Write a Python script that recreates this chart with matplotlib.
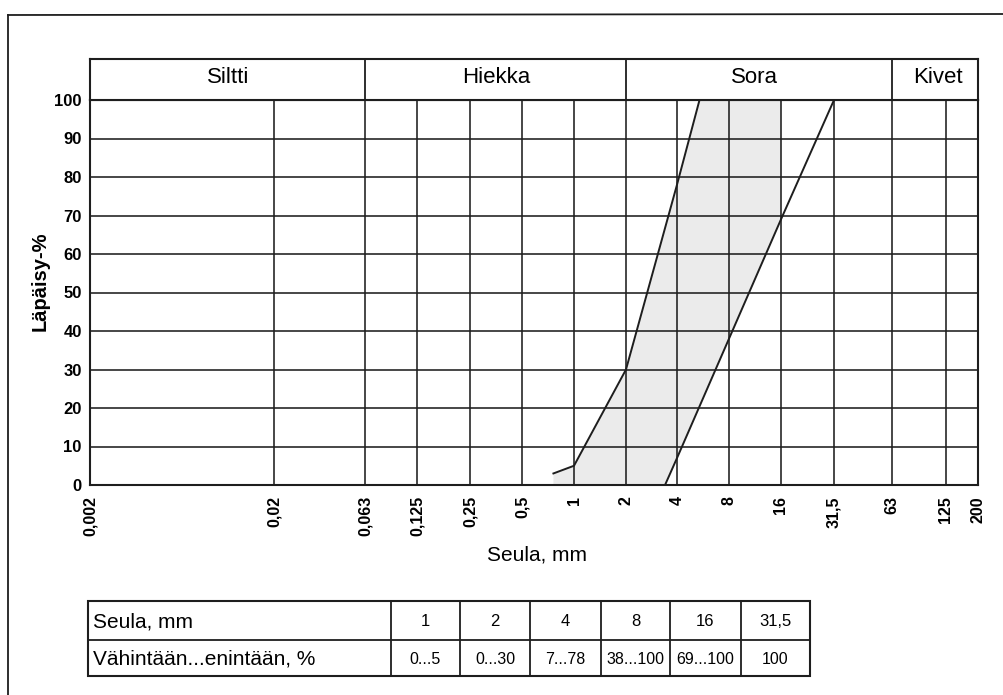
import numpy as np
import matplotlib
matplotlib.use("Agg")
import matplotlib.pyplot as plt
from matplotlib.patches import Polygon, Rectangle

plt.rcParams['font.family'] = ['Liberation Sans', 'DejaVu Sans']

# ---------------- data ----------------
sieve_ticks = [0.002, 0.02, 0.063, 0.125, 0.25, 0.5, 1, 2, 4, 8, 16, 31.5, 63, 125, 200]
sieve_labels = ["0,002", "0,02", "0,063", "0,125", "0,25", "0,5", "1", "2", "4",
                "8", "16", "31,5", "63", "125", "200"]
y_ticks = [0, 10, 20, 30, 40, 50, 60, 70, 80, 90, 100]

# upper limit curve (maximum passing)
max_size = [0.76, 1, 2, 4, 5.4]
max_pass = [3, 5, 30, 78, 100]
# lower limit curve (minimum passing)
min_size = [3.4, 4, 8, 16, 31.5]
min_pass = [0, 7, 38, 69, 100]

soil_classes = ["Siltti", "Hiekka", "Sora", "Kivet"]
class_bounds = [0.002, 0.063, 2, 63, 200]

table_sieves = ["1", "2", "4", "8", "16", "31,5"]
table_ranges = ["0...5", "0...30", "7...78", "38...100", "69...100", "100"]
table_row_titles = ["Seula, mm", "Vähintään...enintään, %"]

# ---------------- layout ----------------
W, H = 1004, 695
# measured pixel offsets of the printed sieve grid lines (the printed axis is only roughly logarithmic)
grid_offsets = [0, 184, 275, 327, 380, 432, 484, 536, 587, 639, 691, 744, 802, 856, 888]
log_t = np.log10(sieve_ticks)

def fwd(v):
    v = np.asarray(v, dtype=float)
    return np.interp(np.log10(np.clip(v, 1e-9, None)), log_t, grid_offsets)

def inv(p):
    p = np.asarray(p, dtype=float)
    return 10 ** np.interp(p, grid_offsets, log_t)

LINE = '#1e1e1e'
fig = plt.figure(figsize=(W / 100, H / 100), dpi=100)
fig.patch.set_facecolor('white')

def fig_rect(x0, y0, x1, y1):
    return [x0 / W, 1 - y1 / H, (x1 - x0) / W, (y1 - y0) / H]

# background axes (pixel coordinates) for frame and table
bg = fig.add_axes([0, 0, 1, 1])
bg.set_xlim(0, W)
bg.set_ylim(H, 0)
bg.axis('off')
bg.plot([8, 8], [15, H], color=LINE, lw=1.3)
bg.plot([8, W], [15, 14], color=LINE, lw=1.3)

# main chart
ax = fig.add_axes(fig_rect(90, 100, 978, 485))
ax.set_xscale('function', functions=(fwd, inv))
ax.set_xlim(sieve_ticks[0], sieve_ticks[-1])
ax.set_ylim(0, 100)

poly_pts = ([(max_size[0], 0)] + list(zip(max_size, max_pass))
            + list(zip(min_size, min_pass))[::-1])
band = Polygon(poly_pts, closed=True, facecolor='#ebebeb', edgecolor='none', zorder=0)
ax.add_patch(band)
clip = Rectangle((sieve_ticks[0], 0), 16 - sieve_ticks[0], 100, transform=ax.transData)
band.set_clip_path(clip)

for v in sieve_ticks[1:-1]:
    ax.axvline(v, color=LINE, lw=1.15, zorder=1)
for v in y_ticks[1:-1]:
    ax.axhline(v, color=LINE, lw=1.15, zorder=1)

ax.plot(max_size, max_pass, color=LINE, lw=1.4, zorder=3)
ax.plot(min_size, min_pass, color=LINE, lw=1.4, zorder=3)

ax.set_xticks(sieve_ticks)
ax.set_xticklabels(sieve_labels, rotation=90, fontsize=11.5, fontweight='bold')
ax.set_yticks(y_ticks)
ax.set_yticklabels([str(v) for v in y_ticks], fontsize=12, fontweight='bold')
ax.tick_params(length=0, pad=6)
ax.tick_params(axis='x', pad=8)
ax.minorticks_off()
for s in ax.spines.values():
    s.set_linewidth(1.5)
    s.set_color(LINE)
ax.set_ylabel("Läpäisy-%", fontsize=14.5, fontweight='bold', labelpad=4)
ax.yaxis.set_label_coords(-0.046, 0.53)
ax.set_xlabel("Seula, mm", fontsize=15)
ax.xaxis.set_label_coords(0.503, -0.158)

# header band with soil classes
hx = fig.add_axes(fig_rect(90, 59, 978, 100))
hx.set_xscale('function', functions=(fwd, inv))
hx.set_xlim(sieve_ticks[0], sieve_ticks[-1])
hx.set_ylim(0, 1)
hx.set_xticks([])
hx.set_yticks([])
hx.minorticks_off()
for s in hx.spines.values():
    s.set_linewidth(1.5)
    s.set_color(LINE)
for b in class_bounds[1:-1]:
    hx.axvline(b, color=LINE, lw=1.3)
for i, name in enumerate(soil_classes):
    cx = np.sqrt(class_bounds[i] * class_bounds[i + 1])
    hx.text(cx, 0.55, name, ha='center', va='center', fontsize=16)

# table
col_x = [88, 391, 460, 530, 601, 670, 741, 810]
row_y = [601, 640, 676]
bg.add_patch(Rectangle((col_x[0], row_y[0]), col_x[-1] - col_x[0], row_y[-1] - row_y[0],
                       fill=False, edgecolor=LINE, lw=1.5))
bg.plot([col_x[0], col_x[-1]], [row_y[1], row_y[1]], color=LINE, lw=1.3)
for cx in col_x[1:-1]:
    bg.plot([cx, cx], [row_y[0], row_y[-1]], color=LINE, lw=1.3)
for r, title in enumerate(table_row_titles):
    bg.text(col_x[0] + 5, (row_y[r] + row_y[r + 1]) / 2 + 1, title,
            ha='left', va='center', fontsize=15)
for j in range(len(table_sieves)):
    xc = (col_x[j + 1] + col_x[j + 2]) / 2
    bg.text(xc, (row_y[0] + row_y[1]) / 2 + 1, table_sieves[j],
            ha='center', va='center', fontsize=12)
    bg.text(xc, (row_y[1] + row_y[2]) / 2 + 1, table_ranges[j],
            ha='center', va='center', fontsize=11.5)

fig.savefig("out.png", dpi=100, facecolor='white')
